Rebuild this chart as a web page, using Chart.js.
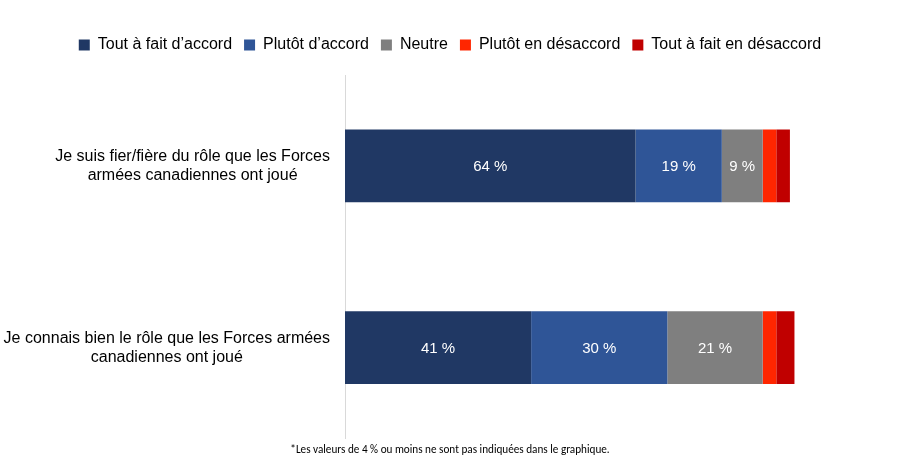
<!DOCTYPE html>
<html>
<head>
<meta charset="utf-8">
<script src="https://cdn.jsdelivr.net/npm/chart.js@4/dist/chart.umd.min.js"></script>
<style>
  html, body { margin: 0; padding: 0; background: #fff; }
  #wrap { width: 900px; height: 465px; position: relative; }
</style>
</head>
<body>
<div id="wrap"><canvas id="chart"></canvas></div>
<script>
// ── Données ───────────────────────────────────────────
const categories = [
  ['Je suis fier/fière du rôle que les Forces', 'armées canadiennes ont joué'],
  ['Je connais bien le rôle que les Forces armées', 'canadiennes ont joué'],
];
const seriesNames = ['Tout à fait d’accord', 'Plutôt d’accord', 'Neutre', 'Plutôt en désaccord', 'Tout à fait en désaccord'];
const toutAFaitAccord    = [64, 41];
const plutotAccord       = [19, 30];
const neutre             = [9, 21];
const plutotDesaccord    = [3, 3];
const toutAFaitDesaccord = [3, 4];
const seriesColors = ['#203864', '#2F5597', '#7F7F7F', '#FF2600', '#C00000'];
const footnote = '*Les valeurs de 4 % ou moins ne sont pas indiquées dans le graphique.';

const LABEL_FONT = '"Liberation Sans", Arial, sans-serif';

// étiquettes des catégories : chaque bloc aligné à droite, lignes centrées entre elles
const categoryLabels = {
  id: 'categoryLabels',
  afterDraw(chart) {
    const { ctx, scales: { y }, chartArea } = chart;
    ctx.save();
    ctx.font = `16px ${LABEL_FONT}`;
    ctx.fillStyle = '#000';
    ctx.textAlign = 'center';
    ctx.textBaseline = 'middle';
    const lineH = 19;
    categories.forEach((lines, i) => {
      const yc = y.getPixelForTick(i);
      const widest = Math.max(...lines.map(l => ctx.measureText(l).width));
      const xc = chartArea.left - 15 - widest / 2;
      const y0 = yc - (lines.length - 1) * lineH / 2;
      lines.forEach((l, k) => ctx.fillText(l, xc, y0 + k * lineH));
    });
    ctx.restore();
  },
};

// valeurs dans les barres (> 4 % seulement)
const valueLabels = {
  id: 'valueLabels',
  afterDatasetsDraw(chart) {
    const { ctx } = chart;
    ctx.save();
    ctx.font = `15px ${LABEL_FONT}`;
    ctx.fillStyle = '#fff';
    ctx.textAlign = 'center';
    ctx.textBaseline = 'middle';
    chart.data.datasets.forEach((ds, di) => {
      chart.getDatasetMeta(di).data.forEach((bar, i) => {
        const v = ds.data[i];
        if (v <= 4) return;
        const p = bar.getCenterPoint();
        ctx.fillText(`${v} %`, p.x, p.y + 1);
      });
    });
    ctx.restore();
  },
};

const seriesData = [toutAFaitAccord, plutotAccord, neutre, plutotDesaccord, toutAFaitDesaccord];

// axe vide, juste pour réserver de l'espace
const spacer = (afterFit) => ({
  grid: { display: false },
  border: { display: false },
  ticks: { display: false },
  afterFit,
});

new Chart(document.getElementById('chart'), {
  type: 'bar',
  data: {
    labels: categories,
    datasets: seriesNames.map((name, i) => ({
      label: name,
      data: seriesData[i],
      backgroundColor: seriesColors[i],
      borderWidth: 0,
      categoryPercentage: 0.4,
      barPercentage: 1,
    })),
  },
  options: {
    indexAxis: 'y',
    responsive: true,
    maintainAspectRatio: false,
    animation: false,
    layout: { padding: { top: 25, right: 0, bottom: 0, left: 0 } },
    scales: {
      x: {
        stacked: true, min: 0, max: 100, position: 'top',
        ...spacer((scale) => { scale.height = 12; }),
      },
      y: {
        stacked: true,
        grid: { display: false },
        border: { color: '#D9D9D9', width: 1 },
        ticks: { display: false },
        afterFit: (scale) => { scale.width = 345; },
      },
      yRight: {
        type: 'category', position: 'right',
        ...spacer((scale) => { scale.width = 101; }),
      },
    },
    plugins: {
      legend: {
        position: 'top',
        labels: {
          boxWidth: 11,
          boxHeight: 11,
          padding: 12,
          color: '#000',
          font: { family: LABEL_FONT, size: 16 },
        },
      },
      subtitle: {
        display: true,
        position: 'bottom',
        text: footnote,
        color: '#000',
        font: { family: 'Carlito, "Liberation Sans", sans-serif', size: 11.2, weight: 'normal' },
        padding: { top: 5, bottom: 8 },
      },
      tooltip: { enabled: false },
    },
  },
  plugins: [categoryLabels, valueLabels],
});
</script>
</body>
</html>
